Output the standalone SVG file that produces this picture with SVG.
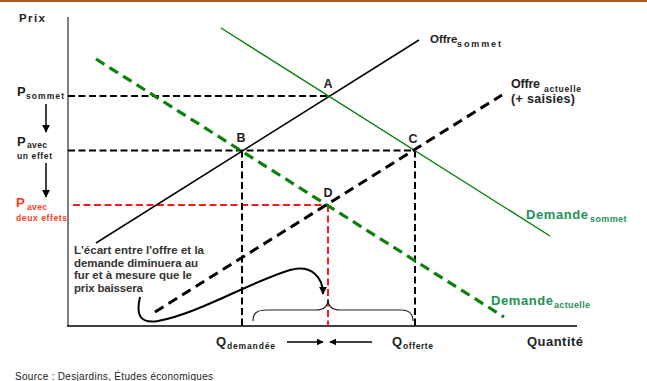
<svg xmlns="http://www.w3.org/2000/svg" width="647" height="381" viewBox="0 0 647 381">
<defs>
<style>
text{font-family:"Liberation Sans",Arial,sans-serif;font-weight:bold;fill:#222}
.g{fill:#1e9257}
.r{fill:#ff3a1a}
.sub{font-size:8.5px}
.big{font-size:13px}
.pt{font-size:12.5px;text-anchor:middle}
.ann{font-size:11.5px;fill:#333}
.dk{fill:none;stroke:#000;stroke-width:2;stroke-dasharray:7 3.5}
.dr{fill:none;stroke:#ff1a1a;stroke-width:2;stroke-dasharray:7 3.5}
</style>
<marker id="ah" viewBox="0 0 10 10" refX="9" refY="5" markerWidth="7" markerHeight="7" markerUnits="userSpaceOnUse" orient="auto"><path d="M0,0 L10,5 L0,10 z" fill="#000"/></marker>
<marker id="ah2" viewBox="0 0 10 10" refX="9" refY="5" markerWidth="8" markerHeight="8" markerUnits="userSpaceOnUse" orient="auto"><path d="M0,0 L10,5 L0,10 z" fill="#000"/></marker>
</defs>
<rect width="647" height="381" fill="#fff"/>
<line x1="0" y1="1" x2="647" y2="1" stroke="#b0561a" stroke-width="2"/>

<g id="axes">
<line x1="68" y1="17" x2="68" y2="326" stroke="#555" stroke-width="1.5"/>
<line x1="67" y1="326" x2="577" y2="326" stroke="#000" stroke-width="1.5"/>
<text x="19" y="22" font-size="11.5" textLength="26" lengthAdjust="spacing" fill="#333">Prix</text>
<text x="527" y="346" font-size="13" textLength="56" lengthAdjust="spacing">Quantité</text>
</g>

<g id="connectors">
<line class="dk" x1="68" y1="96" x2="328" y2="96"/>
<line class="dk" x1="68" y1="150.5" x2="415" y2="150.5"/>
<line class="dr" x1="73" y1="205" x2="328" y2="205"/>
<line class="dk" x1="242" y1="150.5" x2="242" y2="326"/>
<line class="dk" x1="415" y1="150.5" x2="415" y2="326"/>
<line class="dr" x1="328" y1="205" x2="328" y2="326"/>
<line id="offre-sommet" x1="96" y1="243" x2="419" y2="40" stroke="#000" stroke-width="1.5"/>
<line id="demande-sommet" x1="221" y1="28" x2="550" y2="236" stroke="#0a820a" stroke-width="1.4"/>
<line id="demande-actuelle" x1="96" y1="59" x2="504" y2="317" stroke="#0a820a" stroke-width="3.2" stroke-dasharray="10 6"/>
<line id="offre-actuelle" x1="155" y1="312" x2="502" y2="95" stroke="#000" stroke-width="3" stroke-dasharray="10 6"/>
<line x1="46" y1="104" x2="46" y2="132" stroke="#000" stroke-width="1.5" marker-end="url(#ah2)"/>
<line x1="46" y1="163" x2="46" y2="197" stroke="#000" stroke-width="1.5" marker-end="url(#ah2)"/>
<line x1="287" y1="342" x2="323" y2="342" stroke="#000" stroke-width="1.5" marker-end="url(#ah)"/>
<line x1="372" y1="342" x2="330" y2="342" stroke="#000" stroke-width="1.5" marker-end="url(#ah)"/>
<path d="M140,297 C136,314 139,324 158,321 C200,313 250,282 290,270 C312,264 323,278 323,294" fill="none" stroke="#000" stroke-width="2" marker-end="url(#ah2)"/>
<path d="M253,321 C253,313 257,310 267,310 L316,310 C324,310 328,306 328,299 C328,306 332,310 340,310 L401,310 C410,310 413,314 413,321" fill="none" stroke="#222" stroke-width="1.2"/>
</g>

<g id="point-A"><text class="pt" x="328" y="88">A</text></g>
<g id="point-B"><text class="pt" x="241" y="142">B</text></g>
<g id="point-C"><text class="pt" x="413" y="143">C</text></g>
<g id="point-D"><text class="pt" x="328" y="197">D</text></g>

<g id="label-p-sommet">
<text class="big" x="17" y="96">P</text>
<text class="sub" x="26" y="99" textLength="38" lengthAdjust="spacing">sommet</text>
</g>
<g id="label-p-un-effet">
<text class="big" x="17" y="146">P</text>
<text class="sub" x="27" y="147.5" textLength="20" lengthAdjust="spacing">avec</text>
<text class="sub" x="17" y="159" textLength="35" lengthAdjust="spacing">un effet</text>
</g>
<g id="label-p-deux-effets">
<text class="big r" x="16" y="207">P</text>
<text class="sub r" x="27" y="210" textLength="20" lengthAdjust="spacing">avec</text>
<text class="sub r" x="16" y="220.5" textLength="51" lengthAdjust="spacing">deux effets</text>
</g>

<g id="label-offre-sommet">
<text x="430" y="43" font-size="11.5">Offre</text>
<text x="457" y="46.5" font-size="9" textLength="44" lengthAdjust="spacing">sommet</text>
</g>
<g id="label-offre-actuelle">
<text x="511" y="88" font-size="12.5" textLength="29" lengthAdjust="spacing">Offre</text>
<text class="sub" x="544" y="91.5" textLength="37" lengthAdjust="spacing">actuelle</text>
<text x="511" y="103" font-size="12.5" textLength="64" lengthAdjust="spacing">(+ saisies)</text>
</g>
<g id="label-demande-sommet">
<text class="g" x="526" y="219" font-size="13" textLength="62" lengthAdjust="spacing">Demande</text>
<text class="g" x="590" y="222" font-size="9" textLength="36.5" lengthAdjust="spacing">sommet</text>
</g>
<g id="label-demande-actuelle">
<text class="g" x="491" y="305" font-size="13" textLength="62" lengthAdjust="spacing">Demande</text>
<text class="g" x="554" y="308" font-size="9" textLength="36" lengthAdjust="spacing">actuelle</text>
</g>

<g id="annotation">
<text class="ann" x="74" y="254" textLength="130" lengthAdjust="spacing">L'écart entre l'offre et la</text>
<text class="ann" x="74" y="266.5" textLength="124" lengthAdjust="spacing">demande diminuera au</text>
<text class="ann" x="74" y="279" textLength="118" lengthAdjust="spacing">fur et à mesure que le</text>
<text class="ann" x="74" y="291.5" textLength="69" lengthAdjust="spacing">prix baissera</text>
</g>

<g id="label-q-demandee">
<text class="big" x="216" y="346">Q</text>
<text class="sub" x="227" y="349" textLength="48" lengthAdjust="spacing">demandée</text>
</g>
<g id="label-q-offerte">
<text class="big" x="392" y="346">Q</text>
<text class="sub" x="403" y="349" textLength="30" lengthAdjust="spacing">offerte</text>
</g>

<text x="15" y="380" font-size="10" fill="#333" style="font-weight:normal" textLength="198" lengthAdjust="spacing">Source : Desjardins, Études économiques</text>
</svg>
